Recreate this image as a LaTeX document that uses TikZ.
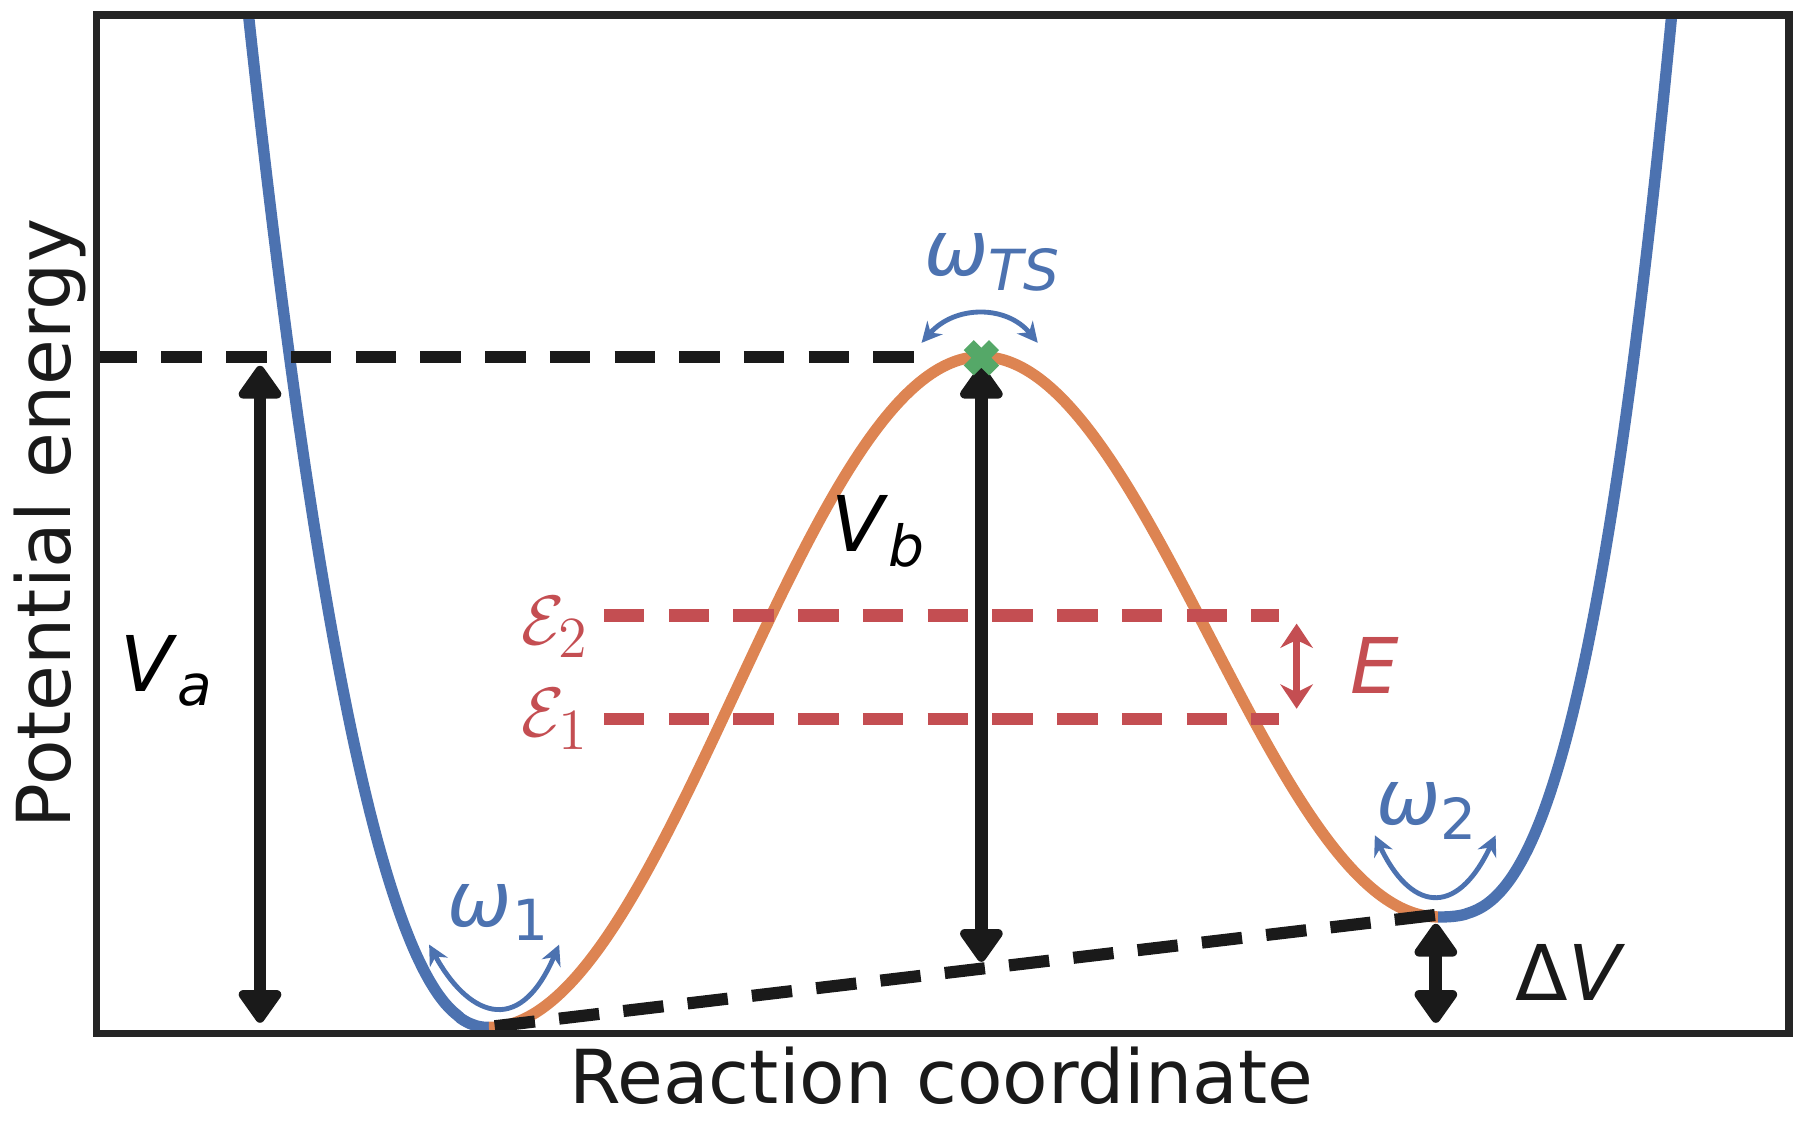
\documentclass[tikz,border=0pt]{standalone}
\usepackage{fontspec}
\setmainfont{DejaVu Sans}
\usetikzlibrary{arrows.meta}
\definecolor{cblue}{HTML}{4C72B0}
\definecolor{corange}{HTML}{DD8452}
\definecolor{cgreen}{HTML}{55A868}
\definecolor{cred}{HTML}{C44E52}
\definecolor{cblack}{HTML}{1A1A1A}
\tikzset{
 curve/.style={line width=2.8pt},
 blkdash/.style={cblack,line width=3pt,dash pattern=on 10pt off 6pt},
 reddash/.style={cred,line width=3pt,dash pattern=on 10pt off 6pt},
 bigarrow/.style={cblack,line width=3.2pt,{Triangle[round,width=12pt,length=9pt]}-{Triangle[round,width=12pt,length=9pt]}},
 smallarrow/.style={cblue,line width=1.2pt,{Stealth[width=5pt,length=5pt]}-{Stealth[width=5pt,length=5pt]}},
 lab/.style={font=\fontsize{19}{22}\selectfont},
}
\newcommand{\lbl}[2]{\textit{#1}\raisebox{-0.35ex}{\fontsize{14}{16}\selectfont\textit{#2}}}
\newcommand{\lblup}[2]{\textit{#1}\raisebox{-0.35ex}{\fontsize{14}{16}\selectfont #2}}
\begin{document}
\begin{tikzpicture}[x=0.01cm,y=-0.01cm]
\useasboundingbox (0,0) rectangle (1568,982);
\begin{scope}
\clip (84,13) rectangle (1555,898);
\draw[curve,cblue] plot[domain=210:425,samples=80,smooth] (\x,{893-880*((425-\x)/209)^2.2});
\draw[curve,corange] plot[domain=425:853,samples=80,smooth] (\x,{893-583*(1-cos(0.42056*(\x-425)))/2});
\draw[curve,corange] plot[domain=853:1250,samples=80,smooth] (\x,{310+487*(1-cos(0.45340*(\x-853)))/2});
\draw[curve,cblue] plot[domain=1250:1456,samples=80,smooth] (\x,{797-784*((\x-1250)/203)^2.7});
\end{scope}
\coordinate (hl) at (84,310); \coordinate (hr) at (812,310);
\draw[blkdash] (hl) -- (hr);
\coordinate (m1) at (430,892); \coordinate (m2) at (1250,795);
\draw[blkdash] (m1) -- (m2);
\coordinate (e2l) at (525,535); \coordinate (e2r) at (1112,535);
\coordinate (e1l) at (525,625); \coordinate (e1r) at (1112,625);
\draw[reddash] (e2l) -- (e2r);
\draw[reddash] (e1l) -- (e1r);
\coordinate (vat) at (226,318); \coordinate (vab) at (226,889);
\draw[bigarrow] (vat) -- (vab);
\coordinate (vbt) at (853,318); \coordinate (vbb) at (853,836);
\draw[bigarrow] (vbt) -- (vbb);
\coordinate (dvt) at (1248,803); \coordinate (dvb) at (1248,889);
\draw[bigarrow] (dvt) -- (dvb);
\coordinate (et) at (1127,542); \coordinate (eb) at (1127,616);
\draw[cred,line width=1.8pt,{Stealth[width=8pt,length=6pt]}-{Stealth[width=8pt,length=6pt]}] (et) -- (eb);
\coordinate (w1a) at (373,821); \coordinate (w1b) at (486,821);
\draw[smallarrow] (w1a) .. controls (405,880) and (450,905) .. (w1b);
\coordinate (wta) at (801,298); \coordinate (wtb) at (902,298);
\draw[smallarrow] (wta) .. controls (830,265) and (875,265) .. (wtb);
\coordinate (w2a) at (1195,726); \coordinate (w2b) at (1300,726);
\draw[smallarrow] (w2a) .. controls (1225,790) and (1265,800) .. (w2b);
\coordinate (ts) at (853,311);
\draw[cgreen,line width=3.5pt] ([shift={(-11,-11)}]ts) -- ([shift={(11,11)}]ts) ([shift={(-11,11)}]ts) -- ([shift={(11,-11)}]ts);
\draw[cblack!95,line width=1.8pt] (84,13) rectangle (1555,898);
\node[lab] (va) at (145,583) {\lbl{V}{a}};
\node[lab] (vb) at (763,462) {\lbl{V}{b}};
\node[lab,cred] (E) at (1195,578) {\textit{E}};
\node[lab,cred] (eps2) at (483,545) {$\mathcal{E}_2$};
\node[lab,cred] (eps1) at (483,625) {$\mathcal{E}_1$};
\node[lab,cblue] (w1) at (433,793) {\lblup{ω}{1}};
\node[lab,cblue] (w2) at (1240,705) {\lblup{ω}{2}};
\node[lab,cblue] (wts) at (862,228) {\lbl{ω}{TS}};
\node[lab,cblack] (dv) at (1365,845) {Δ\textit{V}};
\node[cblack,font=\fontsize{18.4}{22}\selectfont] (xl) at (818,935) {Reaction coordinate};
\node[cblack,font=\fontsize{18.4}{22}\selectfont,rotate=90] (yl) at (43,455) {Potential energy};
\end{tikzpicture}
\end{document}
